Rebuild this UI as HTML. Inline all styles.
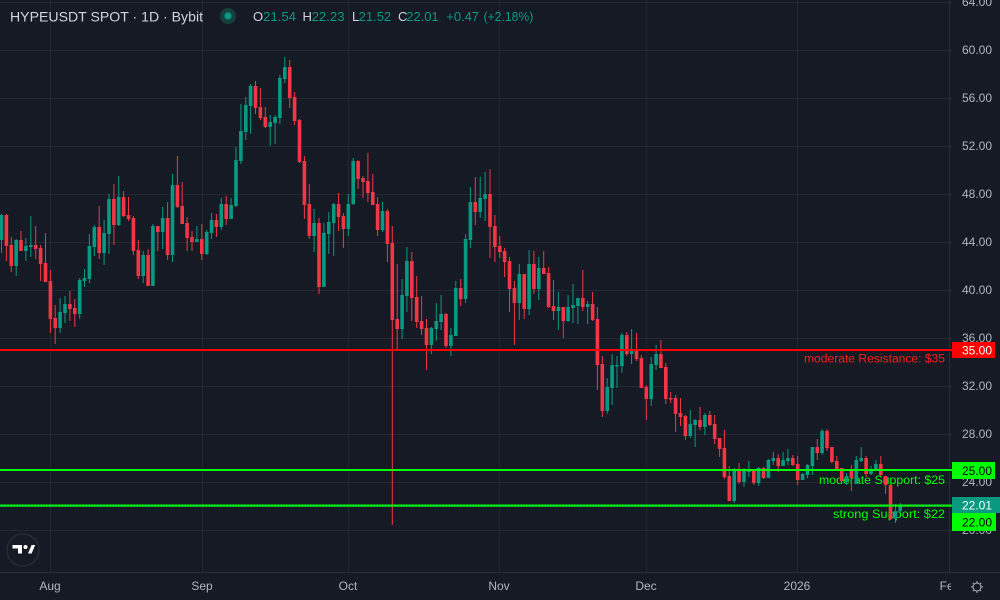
<!DOCTYPE html>
<html><head><meta charset="utf-8"><style>
html,body{margin:0;padding:0;background:#161a25;}
svg{display:block;font-family:"Liberation Sans",sans-serif;}
</style></head><body>
<svg width="1000" height="600" viewBox="0 0 1000 600" xmlns="http://www.w3.org/2000/svg">
<defs>
<clipPath id="pane"><rect x="0" y="0" width="949" height="572"/></clipPath>
<clipPath id="tax"><rect x="0" y="573" width="951" height="27"/></clipPath>
</defs>
<rect x="0" y="0" width="1000" height="600" fill="#161a25"/>
<g stroke="#232733" stroke-width="1" fill="none">
<path d="M0 2.5H952M0 50.5H952M0 98.5H952M0 146.5H952M0 194.5H952M0 242.5H952M0 290.5H952M0 338.5H952M0 386.5H952M0 434.5H952M0 482.5H952M0 530.5H952"/>
<path d="M50.5 0V572M202.5 0V572M348.5 0V572M499.5 0V572M646.5 0V572M797.5 0V572"/>
</g>
<g stroke="#2a2e39" stroke-width="1" fill="none">
<path d="M949.5 0V572.5M0 572.5H1000"/>
</g>

<!-- line texts (under candles) -->
<g font-size="11.5">
<text x="804" y="362.5" fill="#ff1a1a" textLength="141" lengthAdjust="spacingAndGlyphs">moderate Resistance: $35</text>
<text x="819" y="484" fill="#00ff00" textLength="126" lengthAdjust="spacingAndGlyphs">moderate Support: $25</text>
<text x="833" y="518" fill="#00ff00" textLength="112" lengthAdjust="spacingAndGlyphs">strong Support: $22</text>
</g>

<g clip-path="url(#pane)">
<path fill="none" stroke="#089981" stroke-width="1" d="M1.5 214V253M16.2 239V276M25.9 238V261M30.8 216V257M60.1 298V333M65 296V323M79.7 278V319M84.5 269V287M89.4 234V283M94.3 225V256M104.1 220V265M109 194V254M118.7 176V226M143.2 251V283M152.9 224V286M162.7 207V249M172.5 174V262M196.9 226V242M206.7 230V255M211.6 213V239M221.3 198V230M231.1 198V219M236 147V207M240.9 104V164M245.8 97V140M250.6 84V134M270.2 115V146M275.1 115V144M279.9 75V124M284.8 57V83M314.1 209V252M323.9 223V287M328.8 212V254M333.7 203V256M348.3 194V236M353.2 158V205M382.5 202V232M402.1 279V339M406.9 247V312M431.4 327V354M436.3 303V341M441.1 295V330M450.9 328V356M455.8 281V336M465.6 234V303M470.4 187V248M480.2 177V218M485.1 172V221M519.3 264V320M529.1 250V315M538.8 257V300M558.4 292V330M568.1 295V322M573 284V323M577.9 298V324M587.7 301V324M607.2 378V414M612.1 354V405M617 356V388M621.9 333V373M631.6 329V364M651.2 357V406M656.1 345V370M690.3 410V438M695.1 419V447M704.9 413V435M734.2 468V503M744 468V487M748.9 461V477M758.6 467V486M768.4 459V478M773.3 452V465M783.1 452V466M787.9 449V465M802.6 473V480M807.5 464V478M812.4 447V475M822.1 429V455M846.6 473V485M856.3 456V484M861.2 447V462M871 466V475M875.9 460V471M895.4 504V523M900.3 503V512"/>
<path fill="none" stroke="#f23645" stroke-width="1" d="M6.4 214V261M11.3 237V272M21 231V251M35.7 226V259M40.6 245V281M45.5 233V282M50.4 270V333M55.2 305V344M69.9 291V321M74.8 299V327M99.2 206V259M113.9 184V245M123.6 191V217M128.5 197V221M133.4 216V255M138.3 240V279M148.1 249V286M157.8 226V251M167.6 202V260M177.4 156V208M182.2 182V224M187.1 217V251M192 231V251M201.8 224V260M216.4 214V237M226.2 196V225M255.5 81V114M260.4 88V120M265.3 107V128M289.7 60V108M294.6 92V125M299.5 119V163M304.4 156V219M309.3 184V239M319 218V294M338.6 193V231M343.4 213V248M358.1 160V189M363 176V198M367.9 153V202M372.8 174V205M377.6 197V236M387.4 209V262M392.3 226V525M397.2 264V349M411.8 252V321M416.7 276V328M421.6 296V335M426.5 319V370M446 313V348M460.7 279V306M475.3 177V225M490 169V258M494.9 215V262M499.8 236V258M504.6 248V277M509.5 257V312M514.4 281V345M524.2 274V319M533.9 251V294M543.7 251V274M548.6 267V308M553.5 280V320M563.3 307V338M582.8 270V311M592.6 292V321M597.4 307V390M602.3 356V417M626.8 332V356M636.5 333V361M641.4 355V388M646.3 385V420M660.9 340V368M665.8 363V404M670.7 392V403M675.6 395V432M680.5 398V426M685.4 415V440M700 407V430M709.8 411V426M714.7 415V444M719.6 438V457M724.4 430V479M729.3 466V501M739.1 463V484M753.8 469V485M763.5 467V479M778.2 454V472M792.8 455V466M797.7 456V485M817.3 439V460M827 429V451M831.9 447V463M836.8 456V470M841.7 468V483M851.4 465V491M866.1 456V477M880.8 456V476M885.6 476V494M890.5 485V520"/>
<path fill="#089981" d="M-0.3 215h3.6V240h-3.6ZM14.4 240h3.6V266h-3.6ZM24.1 246h3.6V251h-3.6ZM29 245h3.6V247h-3.6ZM58.3 312h3.6V328h-3.6ZM63.2 304h3.6V313h-3.6ZM77.9 280h3.6V314h-3.6ZM82.7 278h3.6V281h-3.6ZM87.6 246h3.6V279h-3.6ZM92.5 227h3.6V247h-3.6ZM102.3 233h3.6V253h-3.6ZM107.2 199h3.6V234h-3.6ZM116.9 197h3.6V225h-3.6ZM141.4 255h3.6V276h-3.6ZM151.1 226h3.6V286h-3.6ZM160.9 218h3.6V232h-3.6ZM170.7 185h3.6V255h-3.6ZM195.1 239h3.6V242h-3.6ZM204.9 232h3.6V254h-3.6ZM209.8 220h3.6V233h-3.6ZM219.5 204h3.6V227h-3.6ZM229.3 205h3.6V219h-3.6ZM234.2 160h3.6V206h-3.6ZM239.1 131h3.6V161h-3.6ZM244 105h3.6V132h-3.6ZM248.8 86h3.6V106h-3.6ZM268.4 122h3.6V127h-3.6ZM273.3 117h3.6V123h-3.6ZM278.1 78h3.6V118h-3.6ZM283 67h3.6V79h-3.6ZM312.3 223h3.6V236h-3.6ZM322.1 233h3.6V287h-3.6ZM327 222h3.6V234h-3.6ZM331.9 204h3.6V223h-3.6ZM346.5 204h3.6V229h-3.6ZM351.4 161h3.6V204h-3.6ZM380.7 211h3.6V230h-3.6ZM400.3 295h3.6V329h-3.6ZM405.1 261h3.6V296h-3.6ZM429.6 328h3.6V345h-3.6ZM434.5 321h3.6V329h-3.6ZM439.3 314h3.6V322h-3.6ZM449.1 335h3.6V346h-3.6ZM454 288h3.6V336h-3.6ZM463.8 239h3.6V299h-3.6ZM468.6 202h3.6V240h-3.6ZM478.4 198h3.6V212h-3.6ZM483.3 194h3.6V199h-3.6ZM517.5 274h3.6V303h-3.6ZM527.3 264h3.6V309h-3.6ZM537 268h3.6V289h-3.6ZM556.6 307h3.6V311h-3.6ZM566.3 307h3.6V321h-3.6ZM571.2 305h3.6V308h-3.6ZM576.1 298h3.6V306h-3.6ZM585.9 304h3.6V307h-3.6ZM605.4 387h3.6V411h-3.6ZM610.3 365h3.6V388h-3.6ZM615.2 365h3.6V366.5h-3.6ZM620.1 335h3.6V366h-3.6ZM629.8 351h3.6V354h-3.6ZM649.4 364h3.6V399h-3.6ZM654.3 354h3.6V365h-3.6ZM688.5 424h3.6V436h-3.6ZM693.3 420h3.6V425h-3.6ZM703.1 415h3.6V427h-3.6ZM732.4 469h3.6V501h-3.6ZM742.2 471h3.6V482h-3.6ZM747.1 470h3.6V472h-3.6ZM756.8 468h3.6V483h-3.6ZM766.6 460h3.6V478h-3.6ZM771.5 458h3.6V461h-3.6ZM781.3 460h3.6V466h-3.6ZM786.1 458h3.6V461h-3.6ZM800.8 474h3.6V480h-3.6ZM805.7 465h3.6V475h-3.6ZM810.6 447h3.6V466h-3.6ZM820.3 431h3.6V453h-3.6ZM844.8 476h3.6V482h-3.6ZM854.5 460h3.6V484h-3.6ZM859.4 458h3.6V461h-3.6ZM869.2 469h3.6V474h-3.6ZM874.1 464h3.6V470h-3.6ZM893.6 511h3.6V519h-3.6ZM898.5 505h3.6V511h-3.6Z"/>
<path fill="#f23645" d="M4.6 215h3.6V246h-3.6ZM9.5 245h3.6V266h-3.6ZM19.2 240h3.6V251h-3.6ZM33.9 245h3.6V249h-3.6ZM38.8 248h3.6V264h-3.6ZM43.7 263h3.6V282h-3.6ZM48.6 281h3.6V319h-3.6ZM53.4 318h3.6V328h-3.6ZM68.1 304h3.6V309h-3.6ZM73 308h3.6V314h-3.6ZM97.4 227h3.6V253h-3.6ZM112.1 199h3.6V225h-3.6ZM121.8 197h3.6V216h-3.6ZM126.7 215h3.6V219h-3.6ZM131.6 218h3.6V251h-3.6ZM136.5 250h3.6V276h-3.6ZM146.3 255h3.6V286h-3.6ZM156 226h3.6V232h-3.6ZM165.8 218h3.6V255h-3.6ZM175.6 185h3.6V207h-3.6ZM180.4 206h3.6V224h-3.6ZM185.3 223h3.6V238h-3.6ZM190.2 237h3.6V242h-3.6ZM200 239h3.6V254h-3.6ZM214.6 220h3.6V227h-3.6ZM224.4 204h3.6V219h-3.6ZM253.7 86h3.6V108h-3.6ZM258.6 107h3.6V118h-3.6ZM263.5 117h3.6V127h-3.6ZM287.9 67h3.6V98h-3.6ZM292.8 97h3.6V121h-3.6ZM297.7 120h3.6V162h-3.6ZM302.6 161h3.6V205h-3.6ZM307.5 204h3.6V236h-3.6ZM317.2 223h3.6V287h-3.6ZM336.8 204h3.6V217h-3.6ZM341.6 216h3.6V229h-3.6ZM356.3 161h3.6V179h-3.6ZM361.2 178h3.6V182h-3.6ZM366.1 181h3.6V193h-3.6ZM371 192h3.6V205h-3.6ZM375.8 204h3.6V230h-3.6ZM385.6 211h3.6V244h-3.6ZM390.5 243h3.6V320h-3.6ZM395.4 319h3.6V329h-3.6ZM410 261h3.6V298h-3.6ZM414.9 297h3.6V322h-3.6ZM419.8 321h3.6V329h-3.6ZM424.7 328h3.6V345h-3.6ZM444.2 314h3.6V346h-3.6ZM458.9 288h3.6V299h-3.6ZM473.5 202h3.6V212h-3.6ZM488.2 194h3.6V227h-3.6ZM493.1 226h3.6V247h-3.6ZM498 246h3.6V252h-3.6ZM502.8 251h3.6V262h-3.6ZM507.7 261h3.6V289h-3.6ZM512.6 288h3.6V303h-3.6ZM522.4 274h3.6V309h-3.6ZM532.1 264h3.6V289h-3.6ZM541.9 268h3.6V274h-3.6ZM546.8 273h3.6V307h-3.6ZM551.7 306h3.6V311h-3.6ZM561.5 307h3.6V321h-3.6ZM581 298h3.6V307h-3.6ZM590.8 304h3.6V320h-3.6ZM595.6 319h3.6V365h-3.6ZM600.5 364h3.6V411h-3.6ZM625 335h3.6V354h-3.6ZM634.7 351h3.6V359h-3.6ZM639.6 358h3.6V388h-3.6ZM644.5 387h3.6V399h-3.6ZM659.1 354h3.6V368h-3.6ZM664 367h3.6V399h-3.6ZM668.9 398h3.6V399.5h-3.6ZM673.8 398h3.6V414h-3.6ZM678.7 413h3.6V417h-3.6ZM683.6 416h3.6V436h-3.6ZM698.2 420h3.6V427h-3.6ZM708 415h3.6V425h-3.6ZM712.9 424h3.6V439h-3.6ZM717.8 438h3.6V449h-3.6ZM722.6 448h3.6V477h-3.6ZM727.5 476h3.6V501h-3.6ZM737.3 469h3.6V482h-3.6ZM752 470h3.6V483h-3.6ZM761.7 468h3.6V478h-3.6ZM776.4 458h3.6V466h-3.6ZM791 458h3.6V465h-3.6ZM795.9 464h3.6V480h-3.6ZM815.5 447h3.6V453h-3.6ZM825.2 431h3.6V448h-3.6ZM830.1 447h3.6V462h-3.6ZM835 461h3.6V469h-3.6ZM839.9 468h3.6V481h-3.6ZM849.6 470h3.6V478h-3.6ZM864.3 458h3.6V474h-3.6ZM879 464h3.6V475h-3.6ZM883.8 476h3.6V485h-3.6ZM888.7 485h3.6V519h-3.6Z"/>
</g>

<!-- horizontal level lines -->
<rect x="0" y="349" width="952" height="2" fill="#ff0000"/>
<rect x="0" y="469" width="952" height="2" fill="#00ff00"/>
<rect x="0" y="504.5" width="952" height="2.2" fill="#00ff00"/>
<path d="M0 505.6H952" stroke="#089981" stroke-width="1" stroke-dasharray="1 2" opacity="0.7"/>

<!-- price axis labels -->
<g font-size="12" fill="#b2b5be">
<text x="962" y="6">64.00</text>
<text x="962" y="54">60.00</text>
<text x="962" y="102">56.00</text>
<text x="962" y="150">52.00</text>
<text x="962" y="198">48.00</text>
<text x="962" y="246">44.00</text>
<text x="962" y="294">40.00</text>
<text x="962" y="342">36.00</text>
<text x="962" y="390">32.00</text>
<text x="962" y="438">28.00</text>
<text x="962" y="486">24.00</text>
<text x="962" y="534">20.00</text>
</g>
<g font-size="12">
<rect x="952" y="342" width="43" height="16" fill="#ff0000"/>
<text x="962" y="354.5" fill="#ffffff">35.00</text>
<rect x="952" y="462" width="43" height="17" fill="#00ff00"/>
<text x="962" y="475" fill="#000000">25.00</text>
<rect x="952" y="497" width="48" height="16" fill="#089981"/>
<text x="962" y="509.5" fill="#ffffff">22.01</text>
<rect x="952" y="513" width="44" height="18" fill="#00ff00"/>
<text x="962" y="526.5" fill="#000000">22.00</text>
</g>

<!-- time axis -->
<g font-size="12" fill="#b2b5be" text-anchor="middle">
<text x="50" y="590">Aug</text>
<text x="202" y="590">Sep</text>
<text x="348" y="590">Oct</text>
<text x="499" y="590">Nov</text>
<text x="646" y="590">Dec</text>
<text x="797" y="590">2026</text>
<text x="950" y="590" clip-path="url(#tax)">Feb</text>
</g>
<g stroke="#b2b5be" stroke-width="1" fill="none">
<circle cx="977" cy="587" r="4"/>
<path d="M977 581V583M977 591V593M971 587H973M981 587H983M972.8 582.8L974.2 584.2M979.8 589.8L981.2 591.2M981.2 582.8L979.8 584.2M974.2 589.8L972.8 591.2"/>
</g>

<!-- TV logo -->
<circle cx="23" cy="550" r="16" fill="#161a25" stroke="#2a2e39" stroke-width="1.3"/>
<g fill="#ffffff">
<rect x="12.5" y="545" width="9.5" height="3.5"/>
<rect x="18" y="545" width="4" height="8.5"/>
<circle cx="25.5" cy="547" r="2"/>
<path d="M28 553.5L31.6 545H35.2L31.6 553.5Z"/>
</g>

<!-- legend -->
<text x="10" y="21.5" font-size="14" fill="#d1d4dc" textLength="193" lengthAdjust="spacingAndGlyphs">HYPEUSDT SPOT · 1D · Bybit</text>
<circle cx="228" cy="16" r="8" fill="#15403c"/>
<circle cx="228" cy="16" r="3.6" fill="#089981"/>
<g font-size="13">
<text x="253" y="21" fill="#d1d4dc">O</text>
<text x="263" y="21" fill="#089981" textLength="33" lengthAdjust="spacingAndGlyphs">21.54</text>
<text x="302.5" y="21" fill="#d1d4dc">H</text>
<text x="311.6" y="21" fill="#089981" textLength="33" lengthAdjust="spacingAndGlyphs">22.23</text>
<text x="352" y="21" fill="#d1d4dc">L</text>
<text x="358.6" y="21" fill="#089981" textLength="32.6" lengthAdjust="spacingAndGlyphs">21.52</text>
<text x="398" y="21" fill="#d1d4dc">C</text>
<text x="406.3" y="21" fill="#089981" textLength="32.3" lengthAdjust="spacingAndGlyphs">22.01</text>
<text x="446.3" y="21" fill="#089981" textLength="32.7" lengthAdjust="spacingAndGlyphs">+0.47</text>
<text x="483.5" y="21" fill="#089981" textLength="49.8" lengthAdjust="spacingAndGlyphs">(+2.18%)</text>
</g>
</svg>
</body></html>
